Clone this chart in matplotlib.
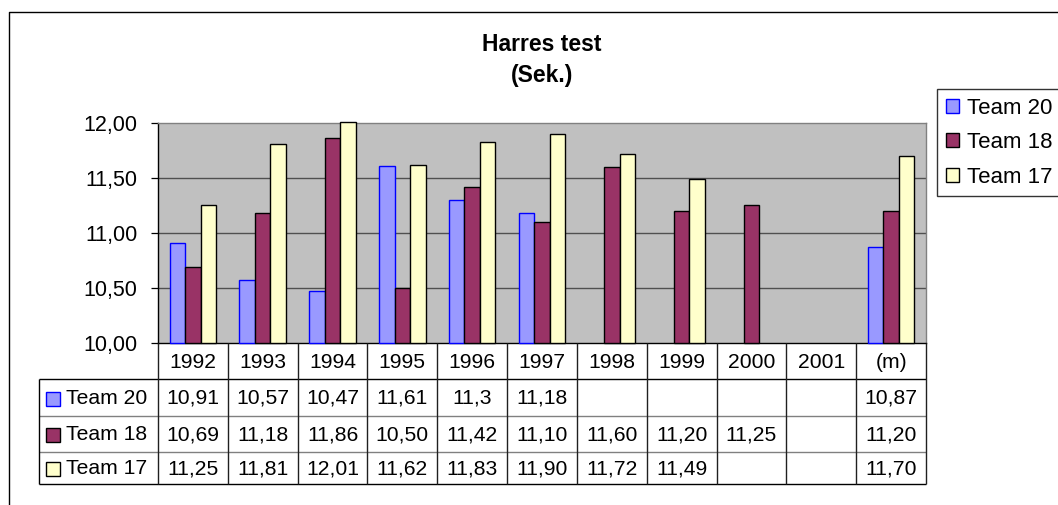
import numpy as np
import matplotlib
matplotlib.use("Agg")
import matplotlib.pyplot as plt
from matplotlib.lines import Line2D
from matplotlib.patches import Patch

plt.rcParams["font.family"] = ["Liberation Sans", "DejaVu Sans"]

nan = np.nan
years = ["1992", "1993", "1994", "1995", "1996", "1997", "1998", "1999", "2000", "2001", "(m)"]
team20 = [10.91, 10.57, 10.47, 11.61, 11.3, 11.18, nan, nan, nan, nan, 10.87]
team18 = [10.69, 11.18, 11.86, 10.50, 11.42, 11.10, 11.60, 11.20, 11.25, nan, 11.20]
team17 = [11.25, 11.81, 12.01, 11.62, 11.83, 11.90, 11.72, 11.49, nan, nan, 11.70]
series_names = ["Team 20", "Team 18", "Team 17"]

fills = ["#9999FF", "#993366", "#FFFFCC"]
edges = ["#0000FF", "#000000", "#000000"]

W, H = 1058, 505
fig = plt.figure(figsize=(W / 100, H / 100), dpi=100)


def fx(px):
    return px / W


def fy(py):
    return 1 - py / H


# plot area in pixel bounds
left, right, top, bottom = 158, 926, 123, 343
ax = fig.add_axes([fx(left), fy(bottom), fx(right - left), (bottom - top) / H])
ax.set_facecolor("#C0C0C0")

x = np.arange(len(years))
bw = 1 / 4.5
baseline = 10.0
for i, vals in enumerate([team20, team18, team17]):
    vals = np.array(vals, dtype=float)
    ok = ~np.isnan(vals)
    ax.bar(x[ok] + (i - 1) * bw, vals[ok] - baseline, bottom=baseline, width=bw,
           color=fills[i], edgecolor=edges[i], linewidth=1.0, zorder=3, clip_on=False)

ax.set_xlim(-0.5, len(years) - 0.5)
ax.set_ylim(10, 12)
ax.set_yticks([10, 10.5, 11, 11.5, 12])
ax.set_yticklabels([f"{v:.2f}".replace(".", ",") for v in [10, 10.5, 11, 11.5, 12]], fontsize=15.5)
ax.tick_params(axis="y", length=5, width=0.9, pad=10, color="black")
ax.set_xticks([])
for gy in [10.5, 11, 11.5]:
    ax.axhline(gy, color="#505050", lw=1.0, zorder=1)
for s in ["top", "right"]:
    ax.spines[s].set_color("#808080")
ax.spines["left"].set_color("black")
ax.spines["bottom"].set_color("black")
for s in ax.spines.values():
    s.set_linewidth(1.0)

# data table below the plot
tab_left, tab_bottom = 39, 484
row_edges = [343, 379, 416, 452, 484]
colw = (right - left) / len(years)
x0 = -0.5 - (left - tab_left) / colw
tab = fig.add_axes([fx(tab_left), fy(tab_bottom), fx(right - tab_left), (tab_bottom - bottom) / H])
tab.set_xlim(x0, len(years) - 0.5)
tab.set_ylim(tab_bottom, bottom)
tab.axis("off")

kw = dict(clip_on=False, solid_capstyle="butt")
# horizontal rules
tab.plot([x0, 10.5], [379, 379], color="black", lw=1.0, **kw)
tab.plot([x0, 10.5], [416, 416], color="#808080", lw=1.0, **kw)
tab.plot([x0, 10.5], [452, 452], color="#808080", lw=1.0, **kw)
tab.plot([x0, 10.5], [484, 484], color="black", lw=1.0, **kw)
# vertical rules
tab.plot([x0, x0], [379, 484], color="black", lw=1.0, **kw)
for i in range(len(years) + 1):
    tab.plot([i - 0.5, i - 0.5], [343, 484], color="#202020", lw=1.0, **kw)

tfs = 15.2
for i, yr in enumerate(years):
    tab.text(i, (row_edges[0] + row_edges[1]) / 2 + 1, yr, ha="center", va="center", fontsize=tfs)


def fmt_general(v):
    return f"{v:g}".replace(".", ",")


def fmt_fixed(v):
    return f"{v:.2f}".replace(".", ",")


formats = [fmt_general, fmt_fixed, fmt_fixed]
px_unit = 1 / colw
for r, vals in enumerate([team20, team18, team17]):
    yc = (row_edges[r + 1] + row_edges[r + 2]) / 2
    tab.plot([x0 + 13.5 * px_unit], [yc + 1], marker="s", ms=10, mfc=fills[r], mec=edges[r],
             mew=1.0, clip_on=False)
    tab.text(x0 + 27 * px_unit, yc + 1, series_names[r], ha="left", va="center", fontsize=tfs)
    for i, v in enumerate(vals):
        if not np.isnan(v):
            tab.text(i, yc + 1, formats[r](v), ha="center", va="center", fontsize=tfs)

# title
fig.text(fx(542), fy(60), "Harres test\n(Sek.)", ha="center", va="center",
         fontsize=16.5, fontweight="bold", linespacing=1.4)

# legend
handles = [Patch(facecolor=fills[i], edgecolor=edges[i], linewidth=1.0) for i in range(3)]
leg = fig.legend(handles, series_names, loc="upper left", bbox_to_anchor=(fx(937), fy(89)),
                 fontsize=16, frameon=True, fancybox=False, borderpad=0.4,
                 handlelength=0.6, handleheight=0.6, handletextpad=0.35,
                 labelspacing=0.6, borderaxespad=0)
leg.get_frame().set_edgecolor("black")
leg.get_frame().set_linewidth(1.0)

# chart outline
fig.add_artist(Line2D([fx(9), fx(9), fx(W)], [0, fy(12), fy(12)], color="black", lw=1.0))

fig.savefig("out.png", dpi=100)
plt.close(fig)
